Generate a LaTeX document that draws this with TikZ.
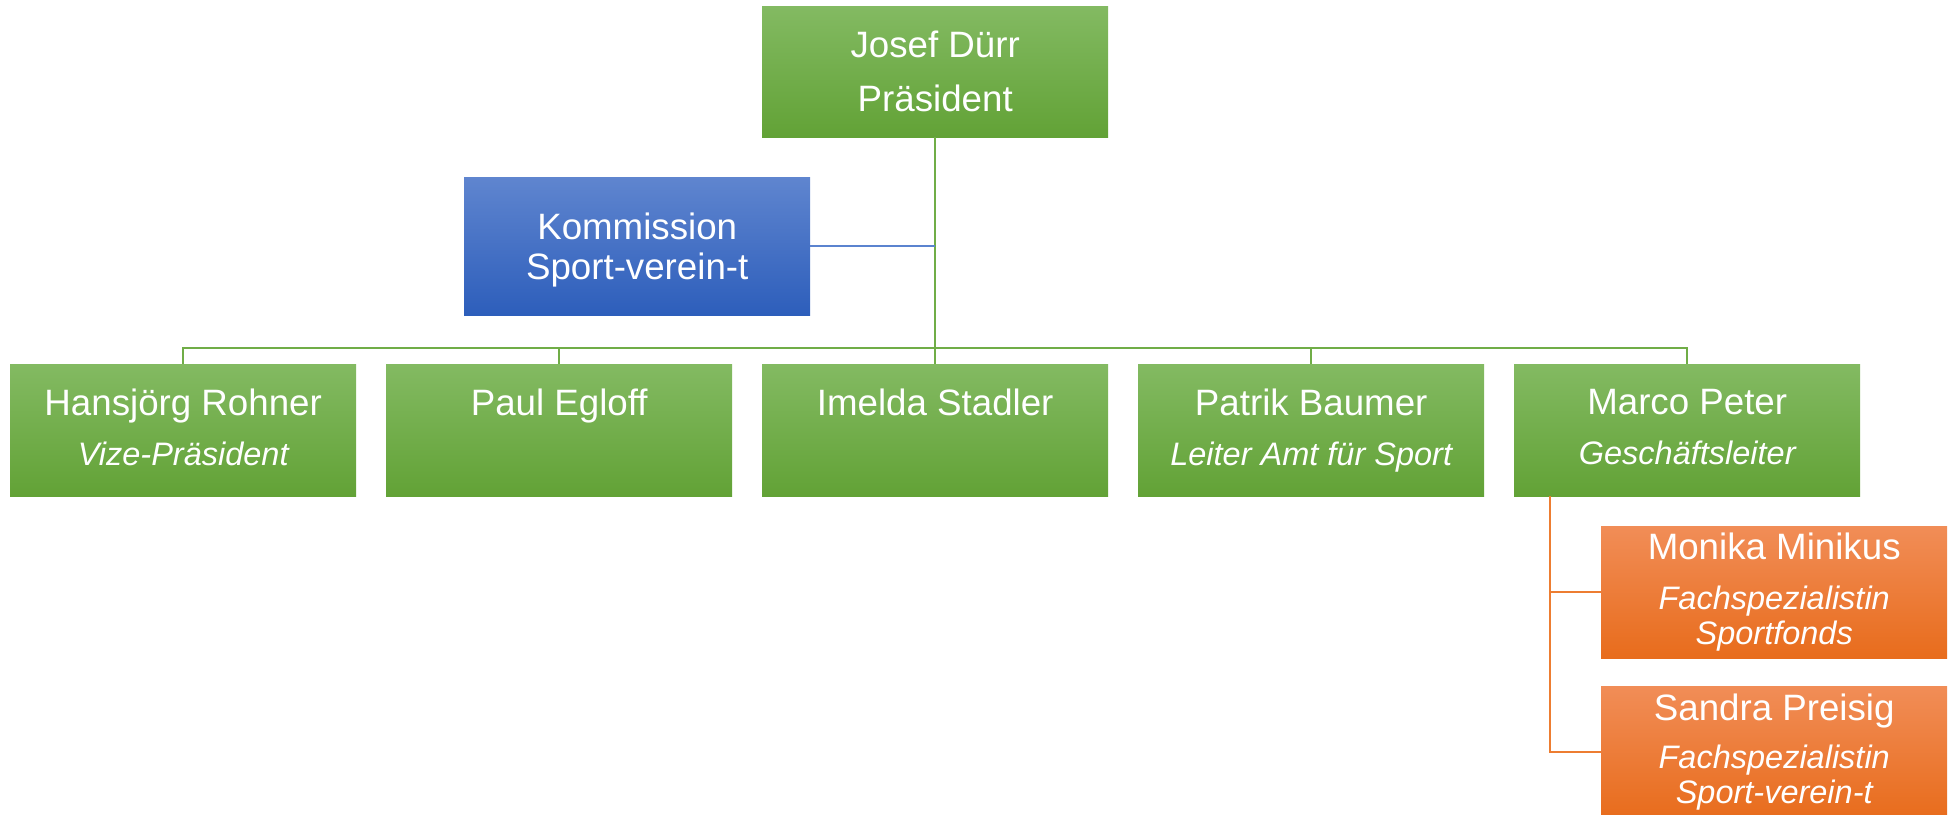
\documentclass[tikz,border=0pt]{standalone}
\usepackage{fontspec}
\setmainfont{Liberation Sans}
\definecolor{grnTop}{HTML}{83BA62}
\definecolor{grnBot}{HTML}{62A236}
\definecolor{bluTop}{HTML}{5F85CF}
\definecolor{bluBot}{HTML}{2D5EBB}
\definecolor{orTop}{HTML}{F18D57}
\definecolor{orBot}{HTML}{E86C1C}
\definecolor{grnLine}{HTML}{70AD47}
\definecolor{bluLine}{HTML}{5B83CF}
\definecolor{orLine}{HTML}{ED7D31}
\newcommand{\nm}{\fontsize{36.7}{40}\selectfont}
\newcommand{\fn}[1]{{\fontsize{32.5}{34}\selectfont\itshape\vphantom{p}#1}}
\tikzset{
  box/.style={anchor=north west, minimum width=346pt, minimum height=132pt,
    inner sep=0pt, align=center, text=white, font=\nm},
  grnbox/.style={box, top color=grnTop, bottom color=grnBot},
  blubox/.style={box, top color=bluTop, bottom color=bluBot},
  orbox/.style={box, top color=orTop, bottom color=orBot},
  grnline/.style={draw=grnLine, line width=2pt},
  bluline/.style={draw=bluLine, line width=2pt},
  orline/.style={draw=orLine, line width=2pt}
}
\begin{document}
\begin{tikzpicture}[x=1pt,y=-1pt]
	    \useasboundingbox (0,0) rectangle (1950,814);
	    % top
	    \node[grnbox, minimum height=131pt] (josef) at (762,6) {Josef Dürr\\[14pt]Präsident};
	    \node[blubox, minimum height=138pt] (komm) at (464,177) {\rule{0pt}{34pt}Kommission\\Sport-verein-t};
	    % row
	    \node[grnbox] (hans) at (10,364) {Hansjörg Rohner\\[10pt]\fn{Vize-Präsident}};
	    \node[grnbox] (paul) at (386,364) {Paul Egloff\\[10pt]\fn{}};
	    \node[grnbox] (imelda) at (762,364) {Imelda Stadler\\[10pt]\fn{}};
	    \node[grnbox] (patrik) at (1138,364) {Patrik Baumer\\[10pt]\fn{Leiter Amt für Sport}};
	    \node[grnbox] (marco) at (1514,364) {Marco Peter\\[10pt]\fn{Geschäftsleiter}};
	    % staff
	    \node[orbox] (monika) at (1601,526) {Monika Minikus\\[10pt]\fn{Fachspezialistin}\\[-4.5pt]\fn{Sportfonds}};
	    \node[orbox] (sandra) at (1601,686) {Sandra Preisig\\[8pt]\fn{Fachspezialistin}\\[-4.5pt]\fn{Sport-verein-t}};
	    % lines
	    \path (josef.south) ++(0,211) coordinate (bus);
	    \path (marco.south west) ++(36,0) coordinate (stem);
	    \draw[grnline] (josef.south) -- (imelda.north);
	    \foreach \n in {hans,paul,patrik,marco}
	        \draw[grnline] (bus) -| (\n.north);
	    \draw[bluline] (komm.east) -- (komm.east -| josef.south);
	    \draw[orline] (stem) |- (monika.west);
	    \draw[orline] (stem) |- (sandra.west);
	\end{tikzpicture}
\end{document}
